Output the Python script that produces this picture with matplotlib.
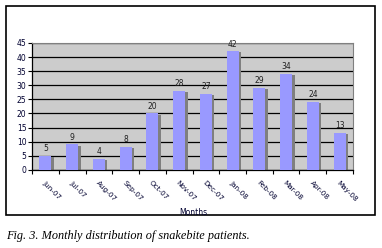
import numpy as np
import matplotlib.pyplot as plt
from matplotlib.patches import Rectangle

months = ['Jun-07', 'Jul-07', 'Aug-07', 'Sep-07', 'Oct-07', 'Nov-07', 'Dec-07',
          'Jan-08', 'Feb-08', 'Mar-08', 'Apr-08', 'May-08']
patients = [5, 9, 4, 8, 20, 28, 27, 42, 29, 34, 24, 13]

fig = plt.figure(figsize=(3.82, 2.48), dpi=100)

# outer chart frame
fig.patches.append(Rectangle((0.016, 0.133), 0.966, 0.843, transform=fig.transFigure,
                             fill=False, edgecolor='black', linewidth=1.2))

ax = fig.add_axes([0.084, 0.315, 0.840, 0.512])
ax.set_facecolor('#cccccc')

x = np.arange(len(months))
# shadow behind each bar
ax.bar(x + 0.09, np.array(patients) - 0.4, width=0.45, color='#7f7f7f', zorder=2)
ax.bar(x, patients, width=0.45, color='#9999ff', zorder=3)

for xi, v in zip(x, patients):
    ax.text(xi, v + 1.0, str(v), ha='center', va='bottom', fontsize=5.5, color='#202020')

ax.set_xlim(-0.5, len(months) - 0.5)
ax.set_ylim(0, 45)
ax.set_yticks(range(0, 46, 5))
ax.yaxis.grid(True, color='black', linewidth=0.9)
ax.set_axisbelow(True)
ax.tick_params(axis='y', labelsize=5.5, length=3, width=0.8, pad=1, labelcolor='#000030')

ax.set_xticks(x)
ax.set_xticklabels(months, rotation=-45, ha='left', va='top', rotation_mode='anchor',
                   fontsize=5.2, color='#000030')
ax.tick_params(axis='x', length=0, pad=7)
ax.set_xticks(np.arange(-0.5, len(months)), minor=True)
ax.tick_params(axis='x', which='minor', length=3, width=0.8)

for side in ['top', 'right']:
    ax.spines[side].set_color('#808080')
ax.spines['left'].set_linewidth(0.9)
ax.spines['bottom'].set_linewidth(0.9)

fig.text(0.505, 0.145, 'Months', ha='center', va='center', fontsize=5.5, color='#000030')

fig.text(0.016, 0.048, 'Fig. 3. Monthly distribution of snakebite patients.',
         fontsize=8.8, style='italic', family='Liberation Serif', ha='left', va='center')

fig.savefig('out.png', dpi=100)
